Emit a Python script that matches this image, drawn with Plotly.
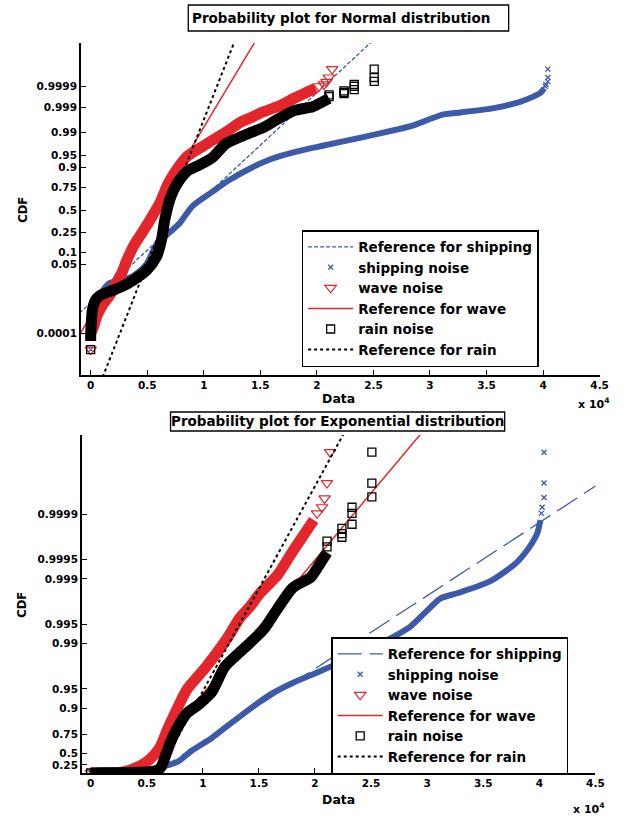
import math
from statistics import NormalDist
import plotly.graph_objects as go

# ---------------- data: x in raw data units, p = empirical CDF ----------------
ship_body_x = [0, 150, 500, 1100, 1700, 2500, 3800, 4900, 5826, 6987, 7861, 9022, 10769,
               12228, 14262, 15900, 18100, 20400, 23988, 26900, 28530, 29900, 31200, 32728,
               35635, 37965, 39128, 39800, 40100]
ship_body_p = [5e-5, 3e-4, 2.5e-3, 8e-3, 0.014, 0.016, 0.024, 0.05, 0.15, 0.25, 0.345, 0.55, 0.71,
               0.815, 0.90, 0.937, 0.96, 0.973, 0.9857, 0.992, 0.9946, 0.9968, 0.9980, 0.99835,
               0.99892, 0.99944, 0.99968, 0.99980, 0.999877]
ship_tail_x = [0, 40190, 40250, 40420, 40420, 40420]
ship_tail_p = [1.3e-5, 0.999903, 0.999922, 0.999945, 0.999967, 0.999989]

wave_body_x = [0, 262, 524, 1048, 1598, 2271, 2795, 3205, 3843, 4515, 5328, 6175, 6812, 7511,
               8559, 10193, 12228, 13300, 14262, 15053, 16700, 17988, 19156, 19886]
wave_body_p = [1e-4, 2.2e-4, 6.6e-4, 2.1e-3, 4.5e-3, 0.012, 0.031, 0.066, 0.147, 0.242, 0.40,
               0.60, 0.78, 0.88, 0.948, 0.976, 0.992, 0.996, 0.9974, 0.9983, 0.99915, 0.99962,
               0.99981, 0.999877]
wave_tail_x = [0, 20185, 20624, 20852, 21063, 21353]
wave_tail_p = [1.3e-5, 0.999903, 0.999922, 0.999943, 0.999967, 0.999989]

rain_body_x = [0, 0, 50, 150, 437, 873, 1598, 2620, 3782, 4952, 5826, 6262, 6550, 6987, 7337,
               7861, 8559, 9607, 10769, 11939, 13100, 14262, 15433, 16595, 18053, 19625,
               20498, 21075]
rain_body_p = [4e-5, 1e-4, 3e-4, 1.3e-3, 3.4e-3, 5.2e-3, 6.9e-3, 9.9e-3, 0.0174, 0.035, 0.080,
               0.184, 0.382, 0.618, 0.726, 0.817, 0.880, 0.912, 0.943, 0.977, 0.9854, 0.9905,
               0.9940, 0.9970, 0.99865, 0.99906, 0.99944, 0.99961]
rain_tail_x = [0, 21075, 21075, 22400, 22400, 22400, 23300, 23300, 23300, 25070, 25070, 25070]
rain_tail_p = [1.3e-5, 0.99968, 0.99974, 0.999773, 0.99980, 0.999835, 0.999857, 0.999903,
               0.999922, 0.999946, 0.999967, 0.999989]

# reference (fitted) lines: two end points each, at these CDF levels
ref_p = [1e-7, 0.9999999]
norm_ref_ship_x = [-7601, 25257]
norm_ref_wave_x = [-3521, 14759]
norm_ref_rain_x = [870, 12860]
exp_ref_ship_x = [5724, 67716]
exp_ref_wave_x = [4076, 37937]
exp_ref_rain_x = [6013, 28092]

x_tick_vals = [0, 5000, 10000, 15000, 20000, 25000, 30000, 35000, 40000, 45000]
x_tick_text = ["0", "0.5", "1", "1.5", "2", "2.5", "3", "3.5", "4", "4.5"]
norm_tick_p = [0.0001, 0.05, 0.1, 0.25, 0.5, 0.75, 0.9, 0.95, 0.99, 0.999, 0.9999]
exp_tick_p = [0.25, 0.5, 0.75, 0.9, 0.95, 0.99, 0.995, 0.999, 0.9995, 0.9999]

# ---------------- probability-paper scales ----------------
ND = NormalDist()


def normal_scale(ps):
    return [ND.inv_cdf(p) for p in ps]


def exp_scale(ps):
    return [-math.log(1.0 - p) for p in ps]


BLUE = "#3D5AA8"
RED = "#E3262B"
BLACK = "#000000"
FONT = "DejaVu Sans"
W, H = 631, 819

fig = go.Figure()


def add_panel(scale, xa, ya, leg, refs, ship_dash):
    ref_ship, ref_wave, ref_rain = refs
    common = dict(xaxis=xa, yaxis=ya, legend=leg, hoverinfo="skip")
    band = dict(shape="spline", smoothing=0.7)
    fig.add_trace(go.Scatter(x=ref_ship, y=scale(ref_p), mode="lines", name="Reference for shipping",
                             line=dict(color=BLUE, width=1.3, dash=ship_dash), **common))
    fig.add_trace(go.Scatter(x=ship_body_x, y=scale(ship_body_p), mode="lines", showlegend=False,
                             line=dict(color=BLUE, width=6, **band), **common))
    fig.add_trace(go.Scatter(x=ship_tail_x, y=scale(ship_tail_p), mode="markers", name="shipping noise",
                             marker=dict(symbol="x-thin", size=5, color=BLUE,
                                         line=dict(color=BLUE, width=1.3)), **common))
    fig.add_trace(go.Scatter(x=wave_body_x, y=scale(wave_body_p), mode="lines", showlegend=False,
                             line=dict(color=RED, width=11, **band), **common))
    fig.add_trace(go.Scatter(x=wave_tail_x, y=scale(wave_tail_p), mode="markers", name="wave noise",
                             marker=dict(symbol="triangle-down-open", size=10, color=RED,
                                         line=dict(color=RED, width=1.2)), **common))
    fig.add_trace(go.Scatter(x=ref_wave, y=scale(ref_p), mode="lines", name="Reference for wave",
                             line=dict(color=RED, width=1.5), **common))
    fig.add_trace(go.Scatter(x=rain_body_x, y=scale(rain_body_p), mode="lines", showlegend=False,
                             line=dict(color=BLACK, width=11, **band), **common))
    fig.add_trace(go.Scatter(x=rain_tail_x, y=scale(rain_tail_p), mode="markers", name="rain noise",
                             marker=dict(symbol="square-open", size=8, color=BLACK,
                                         line=dict(color=BLACK, width=1.3)), **common))
    fig.add_trace(go.Scatter(x=ref_rain, y=scale(ref_p), mode="lines", name="Reference for rain",
                             line=dict(color=BLACK, width=2, dash="dot"), **common))


add_panel(normal_scale, "x", "y", "legend", (norm_ref_ship_x, norm_ref_wave_x, norm_ref_rain_x), "4px,2px")
add_panel(exp_scale, "x2", "y2", "legend2", (exp_ref_ship_x, exp_ref_wave_x, exp_ref_rain_x), "24px,8px")

tickfont = dict(family=FONT, size=10.5, color="black", weight="bold")
axis_common = dict(showline=True, linecolor="black", linewidth=1.5, showgrid=False, zeroline=False,
                   ticks="inside", ticklen=5, tickwidth=1, tickcolor="black", tickfont=tickfont,
                   mirror=False, fixedrange=True)


def px_x(v):
    return v / W


def px_y(v):
    return 1 - v / H


legend_common = dict(xanchor="left", yanchor="top", bgcolor="white", bordercolor="black", borderwidth=1.5,
                     font=dict(family=FONT, size=13.5, color="black", weight="bold"), itemwidth=45,
                     tracegroupgap=0)

fig.update_layout(
    width=W, height=H, margin=dict(l=0, r=0, t=0, b=0),
    paper_bgcolor="white", plot_bgcolor="white",
    xaxis=dict(domain=[px_x(82), px_x(608.3)], range=[-872, 45000], anchor="y",
               tickvals=x_tick_vals, ticktext=x_tick_text, **axis_common),
    yaxis=dict(domain=[px_y(375), px_y(43)], range=[-4.97, 5.03], anchor="x",
               tickvals=normal_scale(norm_tick_p), ticktext=[str(p) for p in norm_tick_p], **axis_common),
    xaxis2=dict(domain=[px_x(83), px_x(604)], range=[-791, 45000], anchor="y2",
                tickvals=x_tick_vals, ticktext=x_tick_text, **axis_common),
    yaxis2=dict(domain=[px_y(773), px_y(435)], range=[0, 12.03], anchor="x2",
                tickvals=exp_scale(exp_tick_p), ticktext=[str(p) for p in exp_tick_p], **axis_common),
    legend=dict(x=px_x(306), y=px_y(230), **legend_common),
    legend2=dict(x=px_x(336), y=px_y(637), **legend_common),
    showlegend=True,
)

# boxed titles
fig.add_shape(type="rect", xref="paper", yref="paper", x0=px_x(191), x1=px_x(516), y0=px_y(31), y1=px_y(5),
              line=dict(color="black", width=1.3), fillcolor="white", layer="above")
fig.add_shape(type="rect", xref="paper", yref="paper", x0=px_x(173), x1=px_x(512), y0=px_y(431), y1=px_y(412),
              line=dict(color="black", width=1.3), fillcolor="white", layer="above")

bold = lambda s: dict(family=FONT, size=s, color="black", weight="bold")
ann = [
    dict(text="Probability plot for Normal distribution", x=px_x(345.5), y=px_y(18), font=bold(13.5)),
    dict(text="Probability plot for Exponential distribution", x=px_x(342.5), y=px_y(421.5), font=bold(13.5)),
    dict(text="CDF", x=px_x(23), y=px_y(210), font=bold(11.5), textangle=-90),
    dict(text="CDF", x=px_x(22), y=px_y(605), font=bold(11.5), textangle=-90),
    dict(text="Data", x=px_x(343), y=px_y(398), font=bold(12.5)),
    dict(text="Data", x=px_x(343), y=px_y(799), font=bold(12.5)),
    dict(text="x 10<sup>4</sup>", x=px_x(621), y=px_y(403), font=bold(11), xanchor="right"),
    dict(text="x 10<sup>4</sup>", x=px_x(616), y=px_y(808), font=bold(11), xanchor="right"),
]
for a in ann:
    a.setdefault("xanchor", "center")
    fig.add_annotation(xref="paper", yref="paper", yanchor="middle", showarrow=False, **a)

fig.write_html("out.html", config={"displayModeBar": False},
               post_script="document.body.style.margin='0';document.documentElement.style.overflow='hidden';")
